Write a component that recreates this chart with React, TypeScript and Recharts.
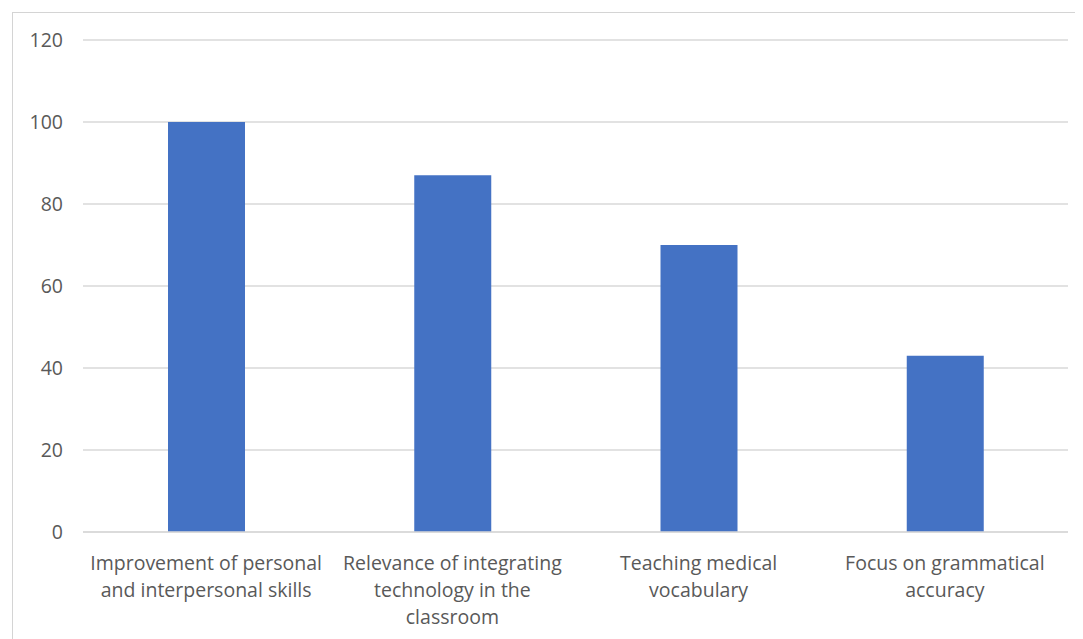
import { BarChart, Bar, XAxis, YAxis, CartesianGrid } from "recharts";

const categories = [
    "Improvement of personal and interpersonal skills",
    "Relevance of integrating technology in the classroom",
    "Teaching medical vocabulary",
    "Focus on grammatical accuracy",
];

const values = [100, 87, 70, 43];

// how the category labels wrap in the original
const labelLines = [
    ["Improvement of personal", "and interpersonal skills"],
    ["Relevance of integrating", "technology in the", "classroom"],
    ["Teaching medical", "vocabulary"],
    ["Focus on grammatical", "accuracy"],
];

const yTicks = [0, 20, 40, 60, 80, 100, 120];

const data = categories.map((name, i) => ({ name, value: values[i], lines: labelLines[i] }));

const FONT = "'Open Sans', sans-serif";
const TEXT = "#595959";

function CategoryTick({ x, y, index }: any) {
    const lines = labelLines[index] || [];
    return (
        <text x={x} y={y} textAnchor="middle" fill={TEXT} fontFamily={FONT} fontSize={19.5}>
            {lines.map((line, i) => (
                <tspan key={i} x={x} dy={i === 0 ? 30 : 27}>{line}</tspan>
            ))}
        </text>
    );
}

export default function App() {
    return (
        <div style={{ marginLeft: 4, marginTop: 4, width: 1080, height: 640, border: "1px solid #d4d4d4", boxSizing: "border-box", background: "#fff" }}>
            <BarChart
                width={1070}
                height={627}
                data={data}
                margin={{ top: 27, right: 15, left: 0, bottom: 18 }}
                barCategoryGap="34%"
            >
                <CartesianGrid vertical={false} stroke="#d9d9d9" strokeWidth={1.5} />
                <XAxis
                    dataKey="name"
                    interval={0}
                    axisLine={{ stroke: "#d9d9d9", strokeWidth: 1.5 }}
                    tickLine={false}
                    height={90}
                    tick={<CategoryTick />}
                />
                <YAxis
                    domain={[0, 120]}
                    ticks={yTicks}
                    width={70}
                    axisLine={false}
                    tickLine={false}
                    tickSize={0}
                    tickMargin={20}
                    tick={{ fill: TEXT, fontFamily: FONT, fontSize: 19.5 }}
                />
                <Bar dataKey="value" fill="#4472C4" barSize={77} isAnimationActive={false} />
            </BarChart>
        </div>
    );
}
